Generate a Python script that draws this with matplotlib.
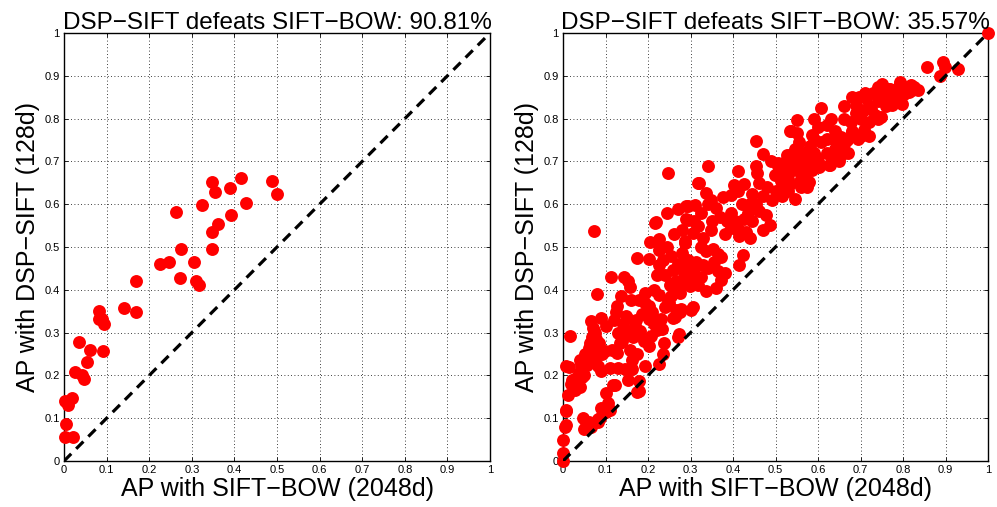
#!/usr/bin/env python3
"""Scatter of per-query AP: DSP-SIFT vs SIFT-BOW, two datasets side by side."""

import numpy as np
import matplotlib
matplotlib.use("Agg")
import matplotlib.pyplot as plt

plt.rcParams["font.family"] = ["Liberation Sans", "DejaVu Sans"]

TITLES = ["DSP\u2212SIFT defeats SIFT\u2212BOW: 90.81%",
          "DSP\u2212SIFT defeats SIFT\u2212BOW: 35.57%"]
XLABEL = "AP with SIFT\u2212BOW (2048d)"
YLABEL = "AP with DSP\u2212SIFT (128d)"
TICKS = [0, 0.1, 0.2, 0.3, 0.4, 0.5, 0.6, 0.7, 0.8, 0.9, 1]
TICK_LABELS = ["0", "0.1", "0.2", "0.3", "0.4", "0.5", "0.6", "0.7", "0.8", "0.9", "1"]

# left panel: (SIFT-BOW AP, DSP-SIFT AP)
left_pts = [
    (0.002, 0.056), (0.020, 0.056), (0.005, 0.086), (0.002, 0.141), (0.010, 0.131),
    (0.018, 0.147), (0.026, 0.207), (0.043, 0.201), (0.047, 0.192), (0.035, 0.277),
    (0.055, 0.231), (0.060, 0.260), (0.083, 0.350), (0.082, 0.332), (0.089, 0.332),
    (0.095, 0.321), (0.091, 0.256), (0.140, 0.357), (0.169, 0.349), (0.168, 0.421),
    (0.225, 0.461), (0.246, 0.464), (0.273, 0.427), (0.274, 0.496), (0.262, 0.582),
    (0.304, 0.464), (0.311, 0.421), (0.316, 0.412), (0.325, 0.599), (0.347, 0.496),
    (0.347, 0.536), (0.362, 0.554), (0.347, 0.651), (0.354, 0.629), (0.389, 0.638),
    (0.392, 0.574), (0.415, 0.661), (0.427, 0.603), (0.489, 0.655), (0.500, 0.623),
]

# right panel: (SIFT-BOW AP, DSP-SIFT AP)
right_pts = [
    # AP below 0.1
    (0.000, 0.000), (0.000, 0.018), (0.000, 0.048), (0.004, 0.080), (0.007, 0.118),
    (0.012, 0.155), (0.006, 0.120), (0.006, 0.085), (0.018, 0.180), (0.022, 0.190),
    (0.028, 0.165), (0.032, 0.178), (0.036, 0.188), (0.040, 0.172), (0.044, 0.196),
    (0.050, 0.200), (0.030, 0.195), (0.038, 0.205), (0.013, 0.220), (0.043, 0.227),
    (0.056, 0.240), (0.016, 0.292), (0.006, 0.222), (0.048, 0.100), (0.055, 0.082),
    (0.050, 0.075), (0.062, 0.092), (0.066, 0.080), (0.083, 0.092), (0.086, 0.100),
    (0.040, 0.235), (0.052, 0.250), (0.060, 0.263), (0.064, 0.275), (0.068, 0.290),
    (0.076, 0.298), (0.080, 0.247), (0.092, 0.251), (0.066, 0.327), (0.089, 0.335),
    (0.074, 0.304), (0.070, 0.310), (0.078, 0.285), (0.084, 0.276), (0.070, 0.262),
    (0.060, 0.240), (0.056, 0.225), (0.086, 0.253), (0.098, 0.257), (0.082, 0.222),
    (0.090, 0.210), (0.072, 0.537), (0.080, 0.391),
    # 0.1 - 0.2
    (0.090, 0.124), (0.102, 0.159), (0.106, 0.135), (0.110, 0.120), (0.100, 0.115),
    (0.122, 0.178), (0.110, 0.218), (0.102, 0.316), (0.126, 0.363), (0.130, 0.300),
    (0.134, 0.276), (0.138, 0.280), (0.126, 0.253), (0.130, 0.218), (0.145, 0.215),
    (0.150, 0.335), (0.150, 0.304), (0.158, 0.260), (0.162, 0.237), (0.162, 0.214),
    (0.154, 0.190), (0.178, 0.186), (0.178, 0.163), (0.170, 0.316), (0.182, 0.304),
    (0.186, 0.343), (0.124, 0.349), (0.114, 0.429), (0.144, 0.431), (0.152, 0.420),
    (0.157, 0.406), (0.136, 0.386), (0.160, 0.376), (0.148, 0.338), (0.171, 0.330),
    (0.179, 0.377), (0.192, 0.392), (0.192, 0.369), (0.200, 0.357), (0.175, 0.475),
    (0.120, 0.330), (0.140, 0.320), (0.165, 0.290), (0.190, 0.280), (0.115, 0.260),
    (0.175, 0.250), (0.173, 0.162), (0.118, 0.178), (0.083, 0.098),
    # 0.2 - 0.3
    (0.202, 0.363), (0.202, 0.331), (0.210, 0.347), (0.214, 0.320), (0.206, 0.292),
    (0.202, 0.269), (0.194, 0.222), (0.226, 0.226), (0.234, 0.308), (0.238, 0.276),
    (0.230, 0.331), (0.250, 0.370), (0.258, 0.335), (0.274, 0.347), (0.278, 0.355),
    (0.274, 0.296), (0.306, 0.359), (0.203, 0.471), (0.205, 0.512), (0.227, 0.518),
    (0.219, 0.558), (0.245, 0.580), (0.271, 0.588), (0.290, 0.596), (0.290, 0.565),
    (0.287, 0.510), (0.279, 0.486), (0.255, 0.478), (0.227, 0.494), (0.227, 0.459),
    (0.259, 0.447), (0.239, 0.435), (0.222, 0.435), (0.251, 0.412), (0.263, 0.404),
    (0.275, 0.392), (0.255, 0.385), (0.227, 0.388), (0.247, 0.373), (0.267, 0.353),
    (0.275, 0.349), (0.263, 0.337), (0.302, 0.353), (0.295, 0.463), (0.298, 0.432),
    (0.298, 0.408), (0.240, 0.360), (0.215, 0.400), (0.235, 0.470), (0.270, 0.460),
    (0.285, 0.440), (0.265, 0.420), (0.245, 0.500), (0.260, 0.530), (0.280, 0.540),
    (0.220, 0.305), (0.235, 0.250), (0.270, 0.290), (0.286, 0.416), (0.294, 0.564),
    (0.294, 0.595), (0.247, 0.673), (0.216, 0.556),
    # 0.3 - 0.4
    (0.310, 0.599), (0.325, 0.579), (0.309, 0.560), (0.317, 0.548), (0.305, 0.533),
    (0.341, 0.690), (0.321, 0.649), (0.337, 0.626), (0.349, 0.611), (0.376, 0.618),
    (0.349, 0.540), (0.286, 0.513), (0.325, 0.500), (0.337, 0.490), (0.352, 0.495),
    (0.364, 0.484), (0.372, 0.476), (0.294, 0.470), (0.313, 0.466), (0.309, 0.450),
    (0.294, 0.444), (0.330, 0.458), (0.341, 0.450), (0.356, 0.466), (0.364, 0.443),
    (0.380, 0.439), (0.372, 0.423), (0.317, 0.412), (0.337, 0.397), (0.360, 0.405),
    (0.325, 0.430), (0.317, 0.650), (0.385, 0.560), (0.395, 0.545), (0.370, 0.570),
    (0.380, 0.530), (0.360, 0.590), (0.340, 0.600), (0.330, 0.520), (0.350, 0.560),
    (0.395, 0.580),
    # 0.4 - 0.5
    (0.403, 0.646), (0.427, 0.648), (0.411, 0.630), (0.396, 0.622), (0.411, 0.677),
    (0.457, 0.673), (0.455, 0.748), (0.471, 0.718), (0.423, 0.482), (0.415, 0.459),
    (0.405, 0.560), (0.415, 0.540), (0.425, 0.565), (0.435, 0.580), (0.445, 0.560),
    (0.430, 0.535), (0.415, 0.525), (0.440, 0.520), (0.455, 0.600), (0.462, 0.585),
    (0.478, 0.575), (0.486, 0.552), (0.470, 0.620), (0.480, 0.640), (0.492, 0.610),
    (0.445, 0.625), (0.460, 0.650), (0.490, 0.700), (0.498, 0.669), (0.500, 0.630),
    (0.440, 0.600), (0.420, 0.600), (0.470, 0.540), (0.455, 0.690),
    # 0.5 - 0.6
    (0.506, 0.690), (0.506, 0.696), (0.521, 0.673), (0.537, 0.770), (0.533, 0.714),
    (0.551, 0.796), (0.534, 0.770), (0.550, 0.767), (0.546, 0.730), (0.590, 0.800),
    (0.599, 0.780), (0.520, 0.640), (0.530, 0.660), (0.545, 0.700), (0.560, 0.690),
    (0.575, 0.700), (0.590, 0.720), (0.580, 0.735), (0.565, 0.720), (0.555, 0.745),
    (0.540, 0.680), (0.525, 0.700), (0.512, 0.655), (0.560, 0.660), (0.570, 0.670),
    (0.585, 0.680), (0.595, 0.690), (0.546, 0.613), (0.515, 0.620), (0.530, 0.630),
    (0.560, 0.640), (0.575, 0.640), (0.600, 0.700), (0.526, 0.714), (0.542, 0.707),
    (0.558, 0.714), (0.574, 0.722), (0.590, 0.753), (0.586, 0.761), (0.606, 0.746),
    (0.629, 0.714), (0.629, 0.691), (0.598, 0.707), (0.590, 0.691), (0.566, 0.691),
    (0.558, 0.675), (0.542, 0.683), (0.526, 0.675), (0.534, 0.648), (0.558, 0.652),
    (0.578, 0.652), (0.602, 0.687), (0.626, 0.691),
    # 0.6 - 0.8
    (0.622, 0.753), (0.637, 0.753), (0.653, 0.757), (0.669, 0.749), (0.681, 0.769),
    (0.693, 0.753), (0.649, 0.734), (0.653, 0.714), (0.606, 0.825), (0.622, 0.784),
    (0.677, 0.792), (0.697, 0.851), (0.713, 0.847), (0.689, 0.831), (0.689, 0.812),
    (0.709, 0.819), (0.725, 0.823), (0.741, 0.874), (0.749, 0.862), (0.765, 0.854),
    (0.781, 0.839), (0.793, 0.882), (0.789, 0.862), (0.733, 0.808), (0.749, 0.804),
    (0.721, 0.792), (0.709, 0.773), (0.757, 0.847), (0.773, 0.831), (0.765, 0.870),
    (0.640, 0.770), (0.660, 0.800), (0.700, 0.800), (0.720, 0.830), (0.740, 0.840),
    (0.760, 0.830), (0.780, 0.850), (0.770, 0.870), (0.750, 0.880), (0.730, 0.860),
    (0.710, 0.860), (0.680, 0.770), (0.660, 0.740), (0.640, 0.730), (0.620, 0.720),
    (0.650, 0.700), (0.670, 0.720), (0.700, 0.760), (0.720, 0.760), (0.740, 0.800),
    (0.680, 0.850), (0.660, 0.830), (0.630, 0.800),
    # above 0.75
    (0.794, 0.886), (0.802, 0.874), (0.818, 0.878), (0.826, 0.874), (0.822, 0.866),
    (0.814, 0.862), (0.802, 0.858), (0.794, 0.854), (0.782, 0.854), (0.770, 0.850),
    (0.762, 0.854), (0.754, 0.858), (0.750, 0.843), (0.778, 0.839), (0.798, 0.835),
    (0.835, 0.868), (0.856, 0.921), (0.894, 0.933), (0.898, 0.921), (0.888, 0.900),
    (0.930, 0.915), (1.000, 1.000),
]


def draw_panel(ax, pts, title):
    pts = np.array(pts)
    ax.plot(pts[:, 0], pts[:, 1], "o", color="red", markersize=9.3,
            markeredgewidth=0, clip_on=False, zorder=3)
    ax.plot([0, 1], [0, 1], color="black", linewidth=2.3, dashes=(3.2, 2.2),
            zorder=4)
    ax.set_xlim(0, 1)
    ax.set_ylim(0, 1)
    ax.set_xticks(TICKS)
    ax.set_yticks(TICKS)
    ax.set_xticklabels(TICK_LABELS)
    ax.set_yticklabels(TICK_LABELS)
    ax.tick_params(direction="in", length=3, width=0.6, labelsize=8,
                   top=True, right=True, pad=3)
    ax.grid(True, linestyle=(0, (1, 3)), color="black", linewidth=0.6)
    for s in ax.spines.values():
        s.set_linewidth(1.0)
    ax.set_title(title, fontsize=17.5, pad=3)
    ax.set_xlabel(XLABEL, fontsize=18, labelpad=1)
    ax.set_ylabel(YLABEL, fontsize=18, labelpad=3)


fig = plt.figure(figsize=(9.97, 5.07), dpi=100)
ax1 = fig.add_axes([0.0642, 0.0907, 0.4273, 0.8442])
ax2 = fig.add_axes([0.5647, 0.0907, 0.4263, 0.8442])
draw_panel(ax1, left_pts, TITLES[0])
draw_panel(ax2, right_pts, TITLES[1])

fig.savefig("out.png", dpi=100)
